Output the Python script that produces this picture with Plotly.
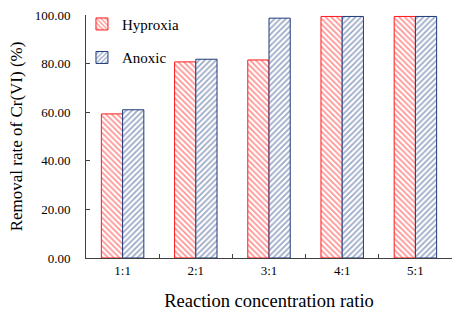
import plotly.graph_objects as go

categories = ["1:1", "2:1", "3:1", "4:1", "5:1"]
hypoxia = [59.3, 80.7, 81.5, 99.4, 99.4]
anoxic = [61.0, 81.8, 98.7, 99.4, 99.4]

font = "Liberation Serif, Times New Roman, serif"

fig = go.Figure()
fig.add_trace(go.Bar(
    x=categories, y=hypoxia, name="Hyproxia", legendgroup="a",
    marker=dict(color="white", line=dict(color="#FF1A1A", width=1),
                pattern=dict(shape="\\", fgcolor="#FF2A2A", bgcolor="white", size=4, solidity=0.45)),
))
fig.add_trace(go.Bar(
    x=categories, y=anoxic, name="Anoxic", legendgroup="b",
    marker=dict(color="white", line=dict(color="#1F3A7A", width=1),
                pattern=dict(shape="/", fgcolor="#3A5590", bgcolor="white", size=4, solidity=0.45)),
))

fig.update_layout(
    width=452, height=311,
    margin=dict(l=86, r=0, t=15, b=53, autoexpand=False),
    plot_bgcolor="white", paper_bgcolor="white",
    barmode="group", bargap=0.42, bargroupgap=0,
    font=dict(family=font, size=13, color="black"),
    legend=dict(x=-0.011, y=1.03, xanchor="left", yanchor="top",
                font=dict(family=font, size=15, color="black"),
                bgcolor="rgba(0,0,0,0)", tracegroupgap=11,
                itemwidth=30),
    showlegend=True,
)
fig.update_xaxes(
    showline=True, linecolor="#404040", linewidth=1,
    ticks="inside", tickson="boundaries", ticklen=4, tickcolor="#404040",
    showgrid=False,
    title=dict(text="Reaction concentration ratio", font=dict(family=font, size=18.5), standoff=18),
    tickfont=dict(family=font, size=13),
)
fig.update_yaxes(
    range=[0, 100], dtick=20, tickformat=".2f",
    showline=True, linecolor="#404040", linewidth=1,
    ticks="inside", ticklen=4, tickcolor="#404040",
    ticklabelstandoff=12,
    showgrid=False, zeroline=False,
    title=dict(text="Removal rate of Cr(VI) (%)", font=dict(family=font, size=17), standoff=7),
    tickfont=dict(family=font, size=13),
)

fig.write_html("out.html", config={"displayModeBar": False},
               post_script="document.body.style.margin='0';")
